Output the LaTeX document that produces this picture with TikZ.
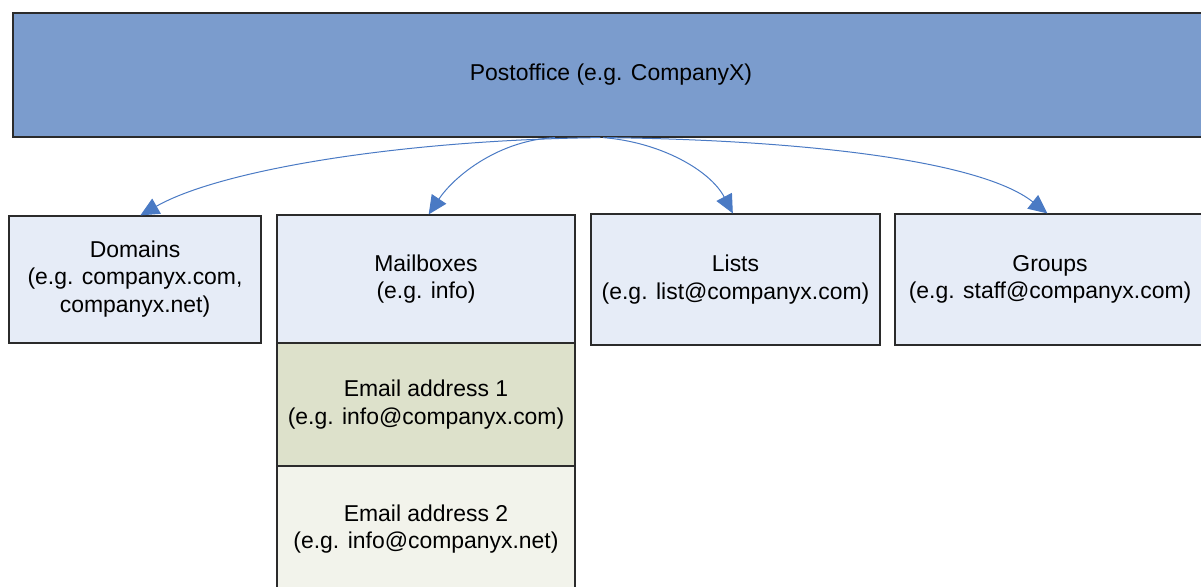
\documentclass[tikz,border=0pt]{standalone}
\usepackage{fontspec}
\setmainfont{Liberation Sans}
\usetikzlibrary{arrows.meta}
\definecolor{topfill}{HTML}{7B9CCD}
\definecolor{lightfill}{HTML}{E6ECF7}
\definecolor{emailone}{HTML}{DDE1CB}
\definecolor{emailtwo}{HTML}{F2F3EB}
\definecolor{arrowblue}{HTML}{4A7AC4}
\definecolor{edge}{HTML}{2B2B2B}
\tikzset{
  box/.style={draw=edge, line width=0.9pt, align=center, inner sep=0pt,
    font=\fontsize{17.2}{20.4}\selectfont},
  conn/.style={draw=arrowblue, line width=0.75pt,
    -{Triangle[length=14pt,width=13pt]}}
}
\begin{document}
\begin{tikzpicture}[x=0.75pt,y=-0.75pt]
\useasboundingbox (0,0) rectangle (1201,586);
\clip (0,0) rectangle (1201,586);
\node[box, fill=topfill, minimum width=897pt, minimum height=93pt] (top) at (611,75) {Postoffice (e.g. CompanyX)};
\node[box, fill=lightfill, minimum width=189pt, minimum height=95.25pt] (dom) at (135,279.5) {\raisebox{4.5pt}{\begin{tabular}{@{}c@{}}Domains\\(e.g. companyx.com,\\companyx.net)\end{tabular}}};
\node[box, fill=lightfill, minimum width=223.5pt, minimum height=96pt] (mail) at (426,279) {Mailboxes\\(e.g. info)};
\node[box, fill=emailone, minimum width=223.5pt, minimum height=92.25pt] (em1) at (426,404.5) {Email address 1\\(e.g. info@companyx.com)};
\node[box, fill=emailtwo, minimum width=223.5pt, minimum height=94.5pt] (em2) at (426,529) {Email address 2\\(e.g. info@companyx.net)};
\node[box, fill=lightfill, minimum width=216.75pt, minimum height=98.25pt] (lists) at (735.5,279.5) {Lists\\(e.g. list@companyx.com)};
\node[box, fill=lightfill, minimum width=232.5pt, minimum height=98.25pt] (groups) at (1050,279.5) {Groups\\(e.g. staff@companyx.com)};
\draw[conn] ([xshift=-8pt]top.south) .. controls (400,140) and (220,170) .. ([xshift=4pt]dom.north);
\draw[conn] ([xshift=-42pt]top.south) .. controls (500,140) and (455,175) .. ([xshift=2pt]mail.north);
\draw[conn] ([xshift=-6pt]top.south) .. controls (660,142) and (710,170) .. ([xshift=-2pt]lists.north);
\draw[conn] ([xshift=-3pt]top.south) .. controls (800,140) and (980,160) .. ([xshift=-2pt]groups.north);
\end{tikzpicture}
\end{document}
